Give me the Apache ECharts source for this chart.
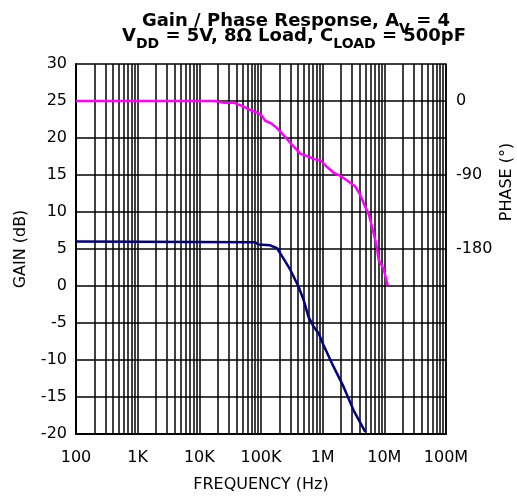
<!DOCTYPE html>
<html>
<head>
<meta charset="utf-8">
<script src="https://cdn.jsdelivr.net/npm/echarts@6/dist/echarts.min.js"></script>
<style>
  html, body { margin: 0; padding: 0; background: #fff; }
  #main { width: 517px; height: 499px; }
</style>
</head>
<body>
<div id="main"></div>
<script>
// frequency tick labels (decades 100 .. 100M)
var freqTicks = [100, 1e3, 1e4, 1e5, 1e6, 1e7, 1e8];
var freqTickLabels = ['100', '1K', '10K', '100K', '1M', '10M', '100M'];

// gain curve
var gainFreq = [100, 80e3, 91e3, 141e3, 182e3, 232e3, 298e3, 407e3, 491e3, 591e3,
                713e3, 859e3, 1.035e6, 1.5e6, 2.18e6, 3.17e6, 4.91e6];
var gainDb = [6.0, 5.9, 5.6, 5.5, 5.1, 3.7, 2.2, -0.1, -1.9, -4.2,
              -5.5, -6.4, -8.0, -10.9, -13.6, -16.8, -19.7];

// phase curve (degrees)
var phaseFreq = [100, 18.2e3, 24.7e3, 35.9e3, 49.2e3, 63e3, 86e3, 104e3, 117e3, 145e3,
                 182e3, 248e3, 318e3, 434e3, 557e3, 759e3, 915e3, 1.17e6, 1.5e6, 1.93e6,
                 2.63e6, 3.38e6, 4.07e6, 4.91e6, 5.56e6, 6.31e6, 7.13e6, 7.6e6, 8.07e6,
                 9.73e6, 11.3e6];
var phaseDeg = [0, 0, -2, -2, -6, -10, -14, -18, -24, -27,
                -33, -44, -53, -64, -67, -71, -72, -80, -87, -91,
                -98, -104, -114, -129, -137, -153, -169, -179, -193,
                -204, -224];

var phaseLabels = [0, -90, -180];

// minor log grid lines (2..9 in every decade)
var minorLines = [];
for (var d = 0; d < freqTicks.length - 1; d++) {
    for (var k = 2; k <= 9; k++) {
        minorLines.push({ xAxis: k * freqTicks[d] });
    }
}

function pairs(xs, ys) {
    return xs.map(function (x, i) { return [x, ys[i]]; });
}

var font = 'DejaVu Sans';
var titleRich = {
    b: { fontFamily: font, fontSize: 18, fontWeight: 'bold', color: '#000', lineHeight: 19, verticalAlign: 'top' },
    s: { fontFamily: font, fontSize: 14, fontWeight: 'bold', color: '#000', lineHeight: 14, verticalAlign: 'top', padding: [10, 0, 0, 0] }
};

var myChart = echarts.init(document.getElementById('main'));
var option = {
    animation: false,
    backgroundColor: '#fff',
    title: [
        {
            text: '{b|Gain / Phase Response, A}{s|V}{b| = 4}',
            left: 296, top: 12, textAlign: 'center', padding: 0,
            textStyle: { rich: titleRich }
        },
        {
            text: '{b|V}{s|DD}{b| = 5V, 8Ω Load, C}{s|LOAD}{b| = 500pF}',
            left: 294, top: 27, textAlign: 'center', padding: 0,
            textStyle: { rich: titleRich }
        }
    ],
    grid: { left: 76, right: 71, top: 64, bottom: 65 },
    xAxis: {
        type: 'log',
        logBase: 10,
        min: 100,
        max: 1e8,
        name: 'FREQUENCY (Hz)',
        nameLocation: 'middle',
        nameGap: 43,
        nameTextStyle: { fontFamily: font, fontSize: 16, color: '#000' },
        axisLine: { onZero: false, lineStyle: { color: '#000', width: 2 } },
        axisTick: { show: false },
        axisLabel: {
            fontFamily: font, fontSize: 16, color: '#000', margin: 16,
            formatter: function (v) {
                var i = freqTicks.indexOf(v);
                return i >= 0 ? freqTickLabels[i] : '';
            }
        },
        splitLine: { show: true, lineStyle: { color: '#000', width: 1.5 } }
    },
    yAxis: [
        {
            type: 'value',
            min: -20,
            max: 30,
            interval: 5,
            name: 'GAIN (dB)',
            nameLocation: 'middle',
            nameGap: 47,
            nameTextStyle: { fontFamily: font, fontSize: 16, color: '#000' },
            axisLine: { show: true, lineStyle: { color: '#000', width: 2 } },
            axisTick: { show: false },
            axisLabel: { fontFamily: font, fontSize: 16, color: '#000', margin: 9 },
            splitLine: { show: true, lineStyle: { color: '#000', width: 1.5 } }
        },
        {
            type: 'value',
            position: 'right',
            min: -405,
            max: 45,
            interval: 45,
            axisLine: { show: true, lineStyle: { color: '#000', width: 1.5 } },
            axisTick: { show: false },
            axisLabel: {
                fontFamily: font, fontSize: 16, color: '#000', margin: 10,
                formatter: function (v) {
                    return phaseLabels.indexOf(v) >= 0 ? String(v) : '';
                }
            },
            splitLine: { show: false }
        }
    ],
    graphic: [
        {
            type: 'text',
            x: 507, y: 182,
            rotation: Math.PI / 2,
            style: {
                text: 'PHASE (°)',
                font: '16px "DejaVu Sans"',
                fill: '#000',
                align: 'center',
                verticalAlign: 'middle'
            }
        }
    ],
    series: [
        {
            name: 'grid',
            type: 'line',
            data: [],
            silent: true,
            z: 1,
            markLine: {
                silent: true,
                symbol: ['none', 'none'],
                label: { show: false },
                lineStyle: { color: '#000', width: 1.5, type: 'solid' },
                data: minorLines
            }
        },
        {
            name: 'Gain',
            type: 'line',
            yAxisIndex: 0,
            data: pairs(gainFreq, gainDb),
            showSymbol: false,
            z: 5,
            lineStyle: { color: '#000080', width: 2.5 }
        },
        {
            name: 'Phase',
            type: 'line',
            yAxisIndex: 1,
            data: pairs(phaseFreq, phaseDeg),
            showSymbol: false,
            z: 5,
            lineStyle: { color: '#ff00ff', width: 2.5 }
        }
    ]
};
myChart.setOption(option);
</script>
</body>
</html>
